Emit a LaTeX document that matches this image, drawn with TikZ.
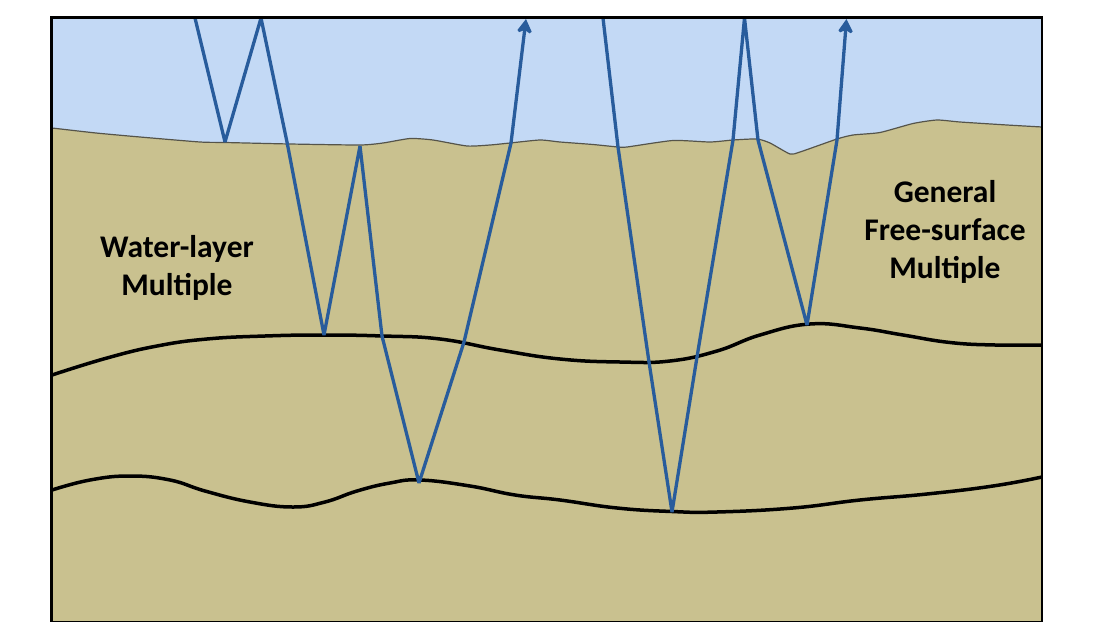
\documentclass[tikz,border=0pt]{standalone}
\usepackage{fontspec}
\setmainfont{Carlito}
\usetikzlibrary{arrows.meta}
\definecolor{water}{HTML}{C3D9F5}
\definecolor{sediment}{HTML}{C9C18F}
\definecolor{ray}{HTML}{285C9C}
\definecolor{seabed}{HTML}{55544A}
\newcommand{\seabedpts}{(1042,127) (1007,125) (960,122) (937,120) (913,123.5) (880,132.5) (853,135) (837,139) (800,152) (790,154) (770,143) (757,139) (733,140) (710,142) (673,140.5) (627,147) (618,147) (593,144.5) (560,142) (540,140) (510,143) (490,145) (467,146) (433,140) (410,138.5) (383,143) (360,145) (290,144) (225,142.5) (200,142) (140,137) (96,133) (52,128)}
\tikzset{
  reflector/.style={line width=3.5pt,black,line cap=butt},
  rayline/.style={line width=3.3pt,ray,miter limit=2.5},
  raytip/.style={-{Stealth[length=16pt,width=19pt,inset=5pt]}},
  lab/.style={font=\fontsize{31.5}{38}\selectfont\bfseries,align=center,text=black,inner sep=0pt},
}
\begin{document}
\begin{tikzpicture}[x=1pt,y=-1pt]
\useasboundingbox (0,0) rectangle (1100,640);
\fill[sediment] (52,17) rectangle (1042,621);
\fill[water] (52,128) -- (52,17) -- (1042,17) -- plot[smooth,tension=0.35] coordinates {\seabedpts} -- cycle;
\draw[seabed,line width=1.2pt] plot[smooth,tension=0.35] coordinates {\seabedpts};
\draw[reflector] plot[smooth,tension=0.75] coordinates {(52,375) (107,358) (157,346) (207,339) (265,336) (323,335) (383,336) (440,339) (500,350) (560,359) (620,362) (670,361) (717,351) (760,335) (810,324) (860,328) (903,335) (950,342.5) (995,345) (1042,345)};
\draw[reflector] plot[smooth,tension=0.75] coordinates {(52,490) (90,480) (130,476) (170,480) (205,491) (250,502) (293,507) (325,502) (357,491) (390,483) (420,480) (470,486) (515,495) (560,500) (617,508) (672,511.5) (717,512) (793,508) (860,500) (927,494) (993,486) (1042,477)};
% rays
\coordinate (a0) at (195,18);
\coordinate (a1) at (225,142);
\coordinate (a2) at (261,18);
\coordinate (a3) at (287,142);
\coordinate (a4) at (324,335);
\coordinate (a5) at (360,146);
\coordinate (a6) at (382,336);
\coordinate (a7) at (419,483);
\coordinate (a8) at (464,342);
\coordinate (a9) at (511,143);
\coordinate (a10) at (526,19);
\coordinate (b0) at (603,18);
\coordinate (b1) at (618,147);
\coordinate (b2) at (649,362);
\coordinate (b3) at (672,512);
\coordinate (b4) at (697,357);
\coordinate (b5) at (733,140);
\coordinate (b6) at (744.5,18);
\coordinate (b7) at (758,140);
\coordinate (b8) at (807,325);
\coordinate (b9) at (837,140);
\coordinate (b10) at (846.5,19);
\draw[rayline,raytip] (a0) -- (a1) -- (a2) -- (a3) -- (a4) -- (a5) -- (a6) -- (a7) -- (a8) -- (a9) -- (a10);
\draw[rayline,raytip] (b0) -- (b1) -- (b2) -- (b3) -- (b4) -- (b5) -- (b6) -- (b7) -- (b8) -- (b9) -- (b10);
% frame
\draw[black,line width=1.6pt] (1042,621.5) -- (52,621.5);
\draw[black,line width=2.6pt] (51.5,621.5) -- (51.5,17.5) -- (1042,17.5) -- (1042,621.5);
\node[lab] (wl) at (177,267.5) {Water-layer\\Multiple};
\node[lab] (fs) at (945,232) {General\\Free-surface\\Multiple};
\end{tikzpicture}
\end{document}
